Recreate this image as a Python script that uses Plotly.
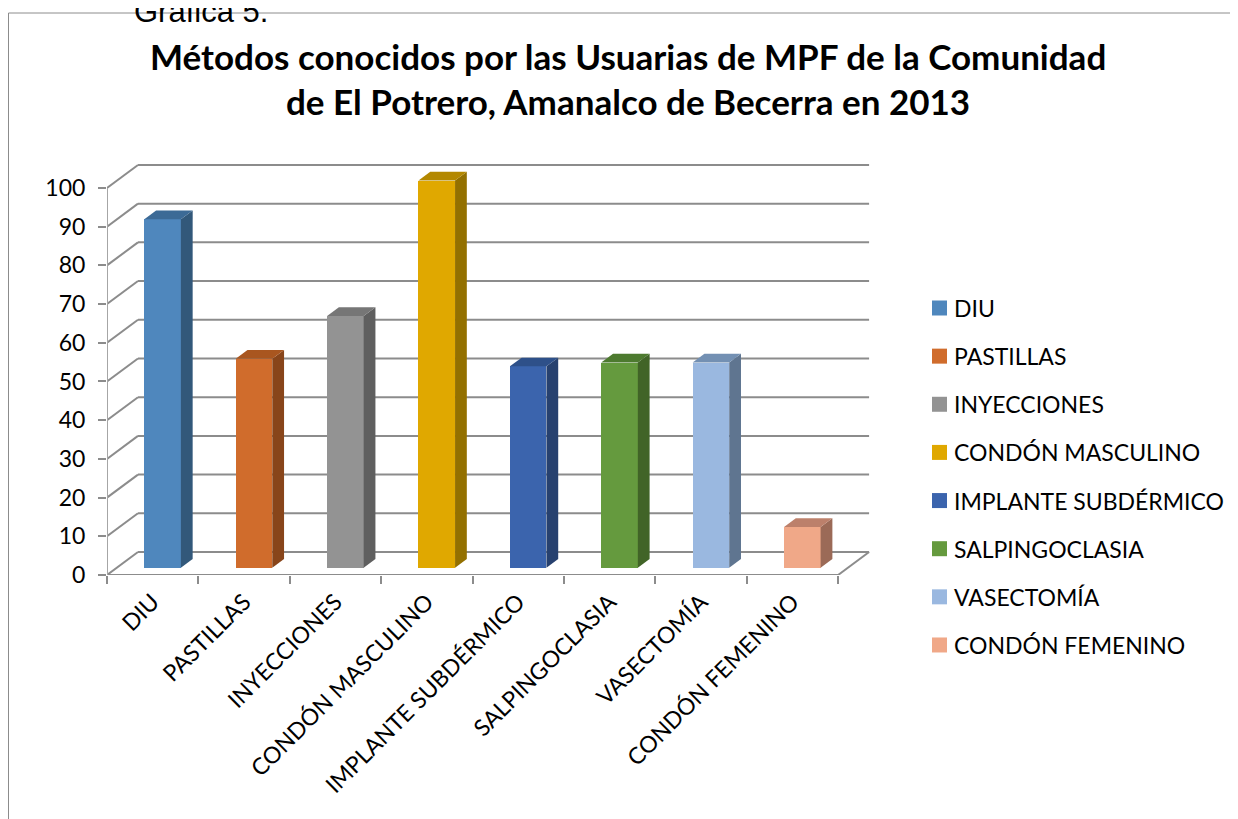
import plotly.graph_objects as go

categories = ['DIU', 'PASTILLAS', 'INYECCIONES', 'CONDÓN MASCULINO',
              'IMPLANTE SUBDÉRMICO', 'SALPINGOCLASIA', 'VASECTOMÍA', 'CONDÓN FEMENINO']
values = [90, 54, 65, 100, 52, 53, 53, 10.5]
y_ticks = [0, 10, 20, 30, 40, 50, 60, 70, 80, 90, 100]
title_lines = ['Métodos conocidos por las Usuarias de MPF de la Comunidad',
               'de El Potrero, Amanalco de Becerra en 2013']

front_colors = ['#4F87BD', '#D06C2C', '#939393', '#E0A800',
                '#3B64AD', '#659A3E', '#9AB8E0', '#F0A888']
side_colors = ['#32587A', '#88451A', '#5F5F5F', '#937000',
               '#27416F', '#416427', '#5F7590', '#9B6A57']
top_colors = ['#3C6A96', '#A9561F', '#767676', '#B38800',
              '#2E5089', '#4D7A2F', '#7390B3', '#BC806B']

# figure box (page body has an 8px margin, so everything is laid out 8px up/left)
W, H = 1230, 811
ML, MR, MT, MB = 99, 368, 142, 244
PW, PH = W - ML - MR, H - MT - MB


def px(x):
    # figure pixel -> paper x
    return (x - ML) / PW


def py(y):
    # figure pixel (from top) -> paper y
    return (H - MB - y) / PH


# pseudo 3d: depth of the floor in data units and where the bars sit in it
DX, DY = 0.339, 5.94
BAR_FRONT, BAR_DEPTH = 0.32, 0.38
BAR_W = 0.4
GRID = '#8C8C8C'
FONT = 'Lato'

n = len(categories)
fig = go.Figure()

shapes = []
# back wall gridlines + left wall diagonals
for t in y_ticks:
    shapes.append(dict(type='line', x0=DX, x1=n + DX, y0=t + DY, y1=t + DY,
                       line=dict(color=GRID, width=2), layer='below'))
    shapes.append(dict(type='line', x0=0, x1=DX, y0=t, y1=t + DY,
                       line=dict(color=GRID, width=2), layer='below'))
# front floor edge, right floor edge, front left axis
shapes.append(dict(type='line', x0=0, x1=n, y0=0, y1=0,
                   line=dict(color=GRID, width=2), layer='below'))
shapes.append(dict(type='line', x0=n, x1=n + DX, y0=0, y1=DY,
                   line=dict(color=GRID, width=2), layer='below'))
shapes.append(dict(type='line', x0=0, x1=0, y0=0, y1=y_ticks[-1],
                   line=dict(color='#A6A6A6', width=2), layer='below'))
# outer chart border (only the left and top edges fall inside the picture)
shapes.append(dict(type='line', xref='paper', yref='paper',
                   x0=px(0.5), x1=px(0.5), y0=py(H + 20), y1=py(5),
                   line=dict(color='#8C8C8C', width=1), layer='below'))
shapes.append(dict(type='line', xref='paper', yref='paper',
                   x0=px(0.5), x1=px(W + 20), y0=py(5), y1=py(5),
                   line=dict(color='#8C8C8C', width=1), layer='below'))

base = BAR_FRONT * DY
ddx, ddy = BAR_DEPTH * DX, BAR_DEPTH * DY
for i, (cat, v) in enumerate(zip(categories, values)):
    xc = i + 0.5 + BAR_FRONT * DX
    xl, xr = xc - BAR_W / 2, xc + BAR_W / 2
    fig.add_trace(go.Bar(
        x=[xc], y=[v], base=[base], width=BAR_W, name=cat,
        marker=dict(color=front_colors[i], line=dict(width=0)),
        showlegend=False,
    ))
    # side face
    fig.add_trace(go.Scatter(
        x=[xr, xr, xr + ddx, xr + ddx, xr],
        y=[base, base + v, base + v + ddy, base + ddy, base],
        fill='toself', fillcolor=side_colors[i], mode='lines',
        line=dict(width=0, color=side_colors[i]), showlegend=False, hoverinfo='skip',
    ))
    # top face
    fig.add_trace(go.Scatter(
        x=[xl, xr, xr + ddx, xl + ddx, xl],
        y=[base + v, base + v, base + v + ddy, base + v + ddy, base + v],
        fill='toself', fillcolor=top_colors[i], mode='lines',
        line=dict(width=0, color=top_colors[i]), showlegend=False, hoverinfo='skip',
    ))

# invisible trace on the second x axis so its tick marks get drawn
fig.add_trace(go.Scatter(x=[0, n], y=[0, 0], xaxis='x2', mode='markers',
                         marker=dict(opacity=0), showlegend=False, hoverinfo='skip'))

annotations = [
    dict(text=title_lines[0], x=px(620), y=1.2212),
    dict(text=title_lines[1], x=px(620), y=1.1153),
]
for a in annotations:
    a.update(xref='paper', yref='paper', xanchor='center', yanchor='middle',
             showarrow=False, font=dict(family=FONT, size=35, color='black', weight='bold'))
annotations.append(dict(
    text='Gráfica 5.', xref='paper', yref='paper', x=0.033, y=1.327,
    xanchor='left', yanchor='middle', showarrow=False,
    font=dict(family='Liberation Sans', size=31, color='black'),
))

# legend drawn by hand: the built-in one pushes the right margin and squeezes the plot
for i, cat in enumerate(categories):
    yc = 300 + 48.14 * i
    shapes.append(dict(type='rect', xref='paper', yref='paper',
                       x0=px(924), x1=px(939), y0=py(yc + 7.5), y1=py(yc - 7.5),
                       fillcolor=front_colors[i], line=dict(width=0)))
    annotations.append(dict(
        text=cat, xref='paper', yref='paper', x=px(944), y=py(yc),
        xanchor='left', yanchor='middle', showarrow=False,
        font=dict(family=FONT, size=23, color='black'),
    ))

fig.update_layout(
    width=W, height=H,
    margin=dict(l=ML, r=MR, t=MT, b=MB),
    paper_bgcolor='white', plot_bgcolor='white',
    font=dict(family=FONT, color='black', size=23),
    showlegend=False,
    xaxis=dict(
        range=[0, n + DX + 0.01], tickvals=[i + 0.5 for i in range(n)], ticktext=categories,
        tickangle=-45, ticks='', showgrid=False, zeroline=False, showline=False,
        tickfont=dict(family=FONT, size=23), ticklabelstandoff=8, automargin=False,
    ),
    xaxis2=dict(
        overlaying='x', range=[0, n + DX + 0.01], tickvals=list(range(n + 1)),
        ticks='outside', ticklen=8, tickwidth=2, tickcolor=GRID,
        showticklabels=False, showgrid=False, zeroline=False, showline=False,
        side='bottom', anchor='y', automargin=False,
    ),
    yaxis=dict(
        range=[0, 109.8], tickvals=y_ticks, ticks='outside', ticklen=8, tickwidth=2,
        tickcolor=GRID, showgrid=False, zeroline=False, showline=False,
        ticklabelstandoff=8, tickfont=dict(family=FONT, size=23), automargin=False,
    ),
    shapes=shapes,
    annotations=annotations,
    bargap=0,
)

fig.write_html('out.html')
